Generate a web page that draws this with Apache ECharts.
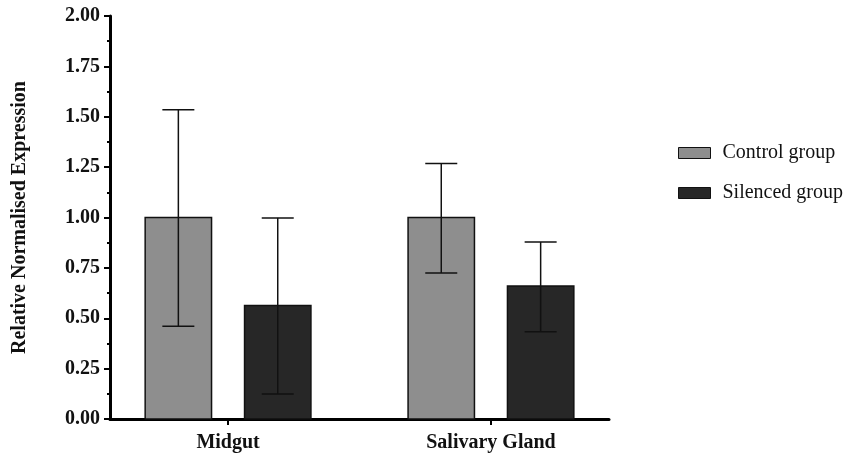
<!DOCTYPE html>
<html>
<head>
<meta charset="utf-8">
<script src="https://cdn.jsdelivr.net/npm/echarts@6/dist/echarts.min.js"></script>
<style>html,body{margin:0;padding:0;background:#fff;}#c{width:843px;height:455px;}</style>
</head>
<body>
<div id="c"></div>
<script>
const categories = ['Midgut', 'Salivary Gland'];
const seriesNames = ['Control group', 'Silenced group'];
const controlMean = [1.00, 1.00];
const controlLow = [0.46, 0.725];
const controlHigh = [1.535, 1.268];
const silencedMean = [0.563, 0.66];
const silencedLow = [0.124, 0.433];
const silencedHigh = [0.998, 0.878];
const yTicks = [0, 0.25, 0.5, 0.75, 1.0, 1.25, 1.5, 1.75, 2.0];

const FONT = 'Liberation Serif';
const BAR_OFFSET = 0.189;
const BAR_WIDTH = 0.2525;
const CAP_HALF = 16;

function makeData(mean, low, high) {
  return categories.map((c, i) => [i, mean[i], low[i], high[i]]);
}

function renderer(offset, fill) {
  return function (params, api) {
    const idx = api.value(0);
    const base = api.coord([idx + offset, 0]);
    const top = api.coord([idx + offset, api.value(1)]);
    const lo = api.coord([idx + offset, api.value(2)]);
    const hi = api.coord([idx + offset, api.value(3)]);
    const w = api.size([BAR_WIDTH, 0])[0];
    const cx = base[0];
    return {
      type: 'group',
      children: [
        { type: 'rect', shape: { x: cx - w / 2, y: top[1], width: w, height: base[1] - top[1] },
          style: { fill: fill, stroke: '#111', lineWidth: 1.5 } },
        { type: 'line', shape: { x1: cx, y1: lo[1], x2: cx, y2: hi[1] }, style: { stroke: '#111', lineWidth: 1.5 } },
        { type: 'line', shape: { x1: cx - CAP_HALF, y1: hi[1], x2: cx + CAP_HALF, y2: hi[1] }, style: { stroke: '#111', lineWidth: 1.5 } },
        { type: 'line', shape: { x1: cx - CAP_HALF, y1: lo[1], x2: cx + CAP_HALF, y2: lo[1] }, style: { stroke: '#111', lineWidth: 1.5 } }
      ]
    };
  };
}

const chart = echarts.init(document.getElementById('c'));
chart.setOption({
  backgroundColor: '#fff',
  animation: false,
  grid: { left: 110, right: 234, top: 16, bottom: 36 },
  legend: {
    orient: 'vertical',
    left: 673,
    top: 138,
    itemWidth: 32,
    itemHeight: 11,
    itemGap: 20,
    icon: 'rect',
    data: seriesNames,
    textStyle: { fontFamily: FONT, fontSize: 20, color: '#111', padding: [0, 0, 0, 7] },
    itemStyle: { borderColor: '#111', borderWidth: 1 }
  },
  xAxis: {
    type: 'value',
    min: -0.449,
    max: 1.449,
    splitLine: { show: false },
    axisLine: { show: true, onZero: false, lineStyle: { color: '#000', width: 3 } },
    axisTick: { show: true, customValues: [0, 1], length: 6, lineStyle: { color: '#000', width: 2 } },
    axisLabel: {
      customValues: [0, 1],
      formatter: v => categories[Math.round(v)],
      fontFamily: FONT, fontWeight: 'bold', fontSize: 20, color: '#111', margin: 14
    }
  },
  yAxis: {
    type: 'value',
    min: 0,
    max: 2,
    interval: 0.25,
    name: 'Relative Normalised Expression',
    nameLocation: 'middle',
    nameGap: 80,
    nameTextStyle: { fontFamily: FONT, fontWeight: 'bold', fontSize: 20, color: '#111' },
    splitLine: { show: false },
    axisLine: { show: true, onZero: false, lineStyle: { color: '#000', width: 3 } },
    axisTick: { show: true, length: 6, lineStyle: { color: '#000', width: 2 } },
    minorTick: { show: true, splitNumber: 2, length: 3, lineStyle: { color: '#000', width: 2 } },
    axisLabel: {
      formatter: v => v.toFixed(2),
      fontFamily: FONT, fontWeight: 'bold', fontSize: 20, color: '#111', margin: 10
    }
  },
  series: [
    { type: 'custom', name: seriesNames[0], renderItem: renderer(-BAR_OFFSET, '#8e8e8e'),
      itemStyle: { color: '#8e8e8e', borderColor: '#111' },
      encode: { x: 0, y: [1, 2, 3] }, data: makeData(controlMean, controlLow, controlHigh), z: 2 },
    { type: 'custom', name: seriesNames[1], renderItem: renderer(BAR_OFFSET, '#272727'),
      itemStyle: { color: '#272727', borderColor: '#111' },
      encode: { x: 0, y: [1, 2, 3] }, data: makeData(silencedMean, silencedLow, silencedHigh), z: 2 }
  ]
});
</script>
</body>
</html>
